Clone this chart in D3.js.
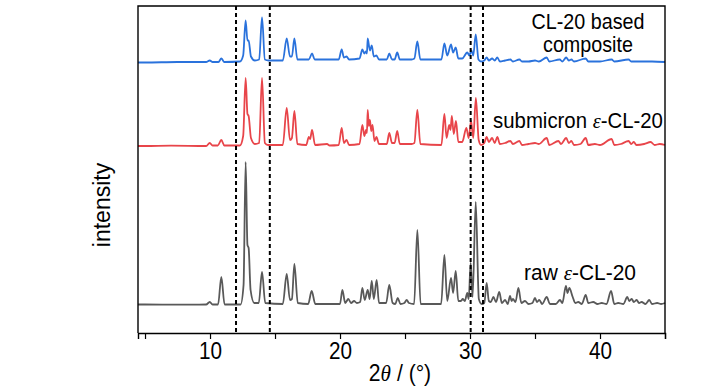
<!DOCTYPE html>
<html><head><meta charset="utf-8">
<script src="https://cdn.jsdelivr.net/npm/d3@7"></script>
<style>body{margin:0;background:#fff}svg{display:block}text{font-family:"Liberation Sans",Arial,sans-serif;fill:#000}</style>
</head><body><svg id="c" width="728" height="390"></svg>
<script>
// ---- data (2θ in degrees, relative intensity) ----
const rawPattern = [[4.46,0.5],[5,0.5],[7,0.3],[9.7,0.5],[9.98,3],[10.2,0.5],[10.62,0.5],[10.87,28],[11.12,0.5],[12.35,0.5],[12.58,20],[12.74,143],[12.88,60],[12.97,57],[13.12,15],[13.4,2],[13.75,2],[14.0,33],[14.25,2],[15.6,1],[15.9,31],[16.15,5],[16.3,6],[16.49,41],[16.75,2],[17.55,1],[17.82,14],[18.1,1],[20.0,1],[20.18,15],[20.4,2],[20.64,6],[20.85,2],[21.08,4],[21.3,2],[21.55,3],[21.72,17],[21.9,5],[22.13,15],[22.28,6],[22.44,24],[22.6,6],[22.82,25],[23.0,2],[23.55,2],[23.79,20],[24.05,2],[24.25,1],[24.44,7],[24.65,1],[24.95,2],[25.13,5],[25.3,2],[25.7,1],[25.95,75],[26.2,1],[27.78,1],[28.03,50],[28.25,4],[28.54,27],[28.7,12],[28.9,34],[29.1,4],[29.3,4],[29.44,6],[29.6,4],[29.79,12],[29.9,6],[30.05,42],[30.2,8],[30.44,103],[30.68,6],[30.9,1],[31.1,2],[31.28,22],[31.45,4],[31.6,3],[31.8,8],[32.0,3],[32.25,13],[32.45,2],[32.7,5],[32.9,1],[33.08,9],[33.2,4],[33.3,6],[33.5,3],[33.72,17],[33.95,2],[34.23,4],[34.5,1],[34.8,2],[35.0,7],[35.15,3],[35.33,5],[35.55,1],[35.9,8],[36.15,1],[36.6,1],[36.92,5],[37.1,2],[37.38,19],[37.5,12],[37.64,17],[37.9,8],[38.1,2],[38.33,3],[38.6,1],[38.9,10],[39.1,2],[39.48,3],[39.8,1],[40.13,2],[40.5,1],[40.85,14],[41.1,1],[41.4,2],[41.8,1],[42.1,8],[42.25,4],[42.44,6],[42.6,3],[42.82,5],[43.0,2],[43.2,3],[43.5,1],[43.79,5],[44.0,1],[44.4,2],[44.7,1],[45,2]];
const submicronPattern = [[4.46,0],[5,0],[7,0.4],[9.7,0],[9.98,3],[10.2,0.5],[10.6,0.5],[10.87,6],[11.1,0.5],[12.3,0.5],[12.55,10],[12.74,68],[12.88,32],[12.97,30],[13.15,8],[13.45,2],[13.78,3],[14.0,68],[14.22,3],[14.45,1],[15.6,1],[15.9,38],[16.15,6],[16.3,8],[16.49,35],[16.72,2],[17.4,1],[17.6,9],[17.7,7],[17.85,16],[18.08,1],[19.0,2],[19.2,0.5],[19.9,1],[20.13,18],[20.3,3],[20.5,6],[20.7,1],[21.5,2],[21.72,21],[21.87,10],[22.0,16],[22.07,13],[22.13,36],[22.22,20],[22.3,26],[22.4,15],[22.5,21],[22.65,5],[22.8,9],[23.0,2],[23.6,2],[23.79,13],[24.0,3],[24.2,3],[24.4,15],[24.6,2],[25.0,2],[25.5,2],[25.72,3],[25.95,36],[26.18,2],[27.8,1],[28.03,32],[28.2,8],[28.4,21],[28.5,16],[28.6,30],[28.75,12],[28.92,25],[29.1,4],[29.4,4],[29.72,18],[29.9,8],[30.08,25],[30.25,8],[30.45,48],[30.67,6],[30.85,1],[31.1,3],[31.28,9],[31.45,4],[31.7,8],[31.9,3],[32.1,9],[32.3,2],[32.7,3],[33.1,5],[33.3,2],[33.8,5],[34.0,1],[34.5,2],[35.0,3],[35.3,2],[35.9,8],[36.1,1],[36.8,5],[37.0,2],[37.4,8],[37.6,3],[37.8,5],[38.0,1],[38.5,2],[38.9,8],[39.1,1],[39.6,2],[40.0,1],[40.9,7],[41.1,1],[41.6,2],[42.2,5],[42.4,2],[42.6,4],[42.8,1],[43.4,2],[43.9,4],[44.2,1],[44.6,2],[45,1]];
const compositePattern = [[4.46,0],[5,0],[7.5,0.5],[9.7,0.5],[9.98,2],[10.2,0.5],[10.65,0.5],[10.87,4],[11.1,0.5],[12.3,1],[12.55,7],[12.74,42],[12.88,22],[12.97,22],[13.15,6],[13.45,2],[13.78,3],[14.0,45],[14.22,3],[14.5,2],[15.6,2],[15.9,24],[16.15,6],[16.3,6],[16.49,24],[16.72,3],[17.6,3],[17.85,9],[18.05,3],[19.0,3],[19.5,3],[19.9,3],[20.13,13],[20.3,5],[20.5,6],[20.7,3],[21.5,4],[21.72,13],[21.87,9],[22.0,11],[22.07,9],[22.13,24],[22.3,12],[22.44,17],[22.6,6],[22.8,7],[23.0,3],[23.6,3],[23.79,9],[24.0,3],[24.2,3],[24.4,10],[24.6,3],[25.0,3],[25.5,3],[25.72,4],[25.95,21],[26.18,3],[27.8,3],[28.03,19],[28.25,7],[28.54,18],[28.7,10],[28.9,15],[29.1,4],[29.4,4],[29.79,10],[29.95,7],[30.1,12],[30.25,7],[30.44,28],[30.65,3],[30.85,1],[31.1,2],[31.28,5],[31.45,2],[31.7,4],[31.9,2],[32.1,5],[32.3,1],[32.7,2],[33.1,3],[33.3,1],[33.8,3],[34.0,1],[34.5,1],[35.0,2],[35.3,1],[35.9,5],[36.1,1],[36.9,3],[37.1,1],[37.4,5],[37.6,2],[37.8,3],[38.0,1],[38.9,4],[39.1,1],[40.0,1],[40.9,3],[41.1,1],[42.2,3],[42.4,1],[43.0,1],[44.0,1],[45,0.5]];
const seriesNames = ["raw", "submicron", "composite"];
const seriesOffsets = [0, 159, 242.5];
const seriesColors = ["#595959", "#e8454a", "#2a72dc"];
const markerLines = [12.0, 14.6, 30.05, 31.0];
const xTicks = [5, 10, 15, 20, 25, 30, 35, 40, 45];
const xTickLabels = ["", "10", "", "20", "", "30", "", "40", ""];
const xDomain = [4.46, 45];
const yDomain = [-28, 299];

// ---- layout ----
const L = 138, R = 665, T = 6, B = 333;
const svg = d3.select("#c");
const x = d3.scaleLinear().domain(xDomain).range([L, R]);
const y = d3.scaleLinear().domain(yDomain).range([B, T]);

const patterns = [rawPattern, submicronPattern, compositePattern];
const line = d3.line().curve(d3.curveMonotoneX);

patterns.forEach((p, i) => {
  svg.append("path")
    .attr("d", line(p.map(d => [x(d[0]), y(d[1] + seriesOffsets[i])])))
    .attr("fill", "none")
    .attr("stroke", seriesColors[i])
    .attr("stroke-width", 1.8)
    .attr("stroke-linejoin", "round");
});

// dashed markers
svg.selectAll("line.mk").data(markerLines).enter().append("line")
  .attr("x1", d => x(d)).attr("x2", d => x(d))
  .attr("y1", T).attr("y2", B)
  .attr("stroke", "#000").attr("stroke-width", 2).attr("stroke-dasharray", "4,3");

// frame
svg.append("path")
  .attr("d", `M${L},${B}V${T}H${R}V${B}`)
  .attr("fill", "none").attr("stroke", "#000").attr("stroke-width", 1.4);

// x axis
const xAxis = d3.axisBottom(x).tickValues(xTicks)
  .tickFormat((d, i) => xTickLabels[i]).tickSize(6).tickPadding(4);
const gx = svg.append("g").attr("transform", `translate(0,${B})`).call(xAxis);
gx.select(".domain").attr("stroke-width", 1.4);
gx.selectAll(".tick line").attr("stroke-width", 1.2);
gx.selectAll(".tick text").attr("font-size", 23).attr("font-family", "Liberation Sans, Arial, sans-serif")
  .attr("transform", "scale(0.9,1)");

// axis titles
const xt = svg.append("text").attr("transform", "translate(400,381) scale(0.92,1)").attr("text-anchor", "middle")
  .attr("font-size", 23);
xt.append("tspan").text("2");
xt.append("tspan").attr("font-style", "italic").attr("font-family", "Liberation Serif, serif").text("θ");
xt.append("tspan").text(" / (°)");

svg.append("text").attr("transform", "translate(110,205) rotate(-90)")
  .attr("text-anchor", "middle").attr("font-size", 23).text("intensity");

// series labels (scaled horizontally to the reference widths)
function label(xc, yb, parts, width) {
  const g = svg.append("g").attr("transform", `translate(${xc},${yb})`);
  const t = g.append("text").attr("text-anchor", "middle").attr("font-size", 22);
  parts.forEach(p => {
    const s = t.append("tspan").text(p[0]);
    if (p[1]) s.attr("font-style", "italic").attr("font-family", "Liberation Serif, serif");
  });
  const w = t.node().getComputedTextLength();
  t.attr("transform", `scale(${width / w},1)`);
}
label(588, 29, [["CL-20 based"]], 113);
label(588, 52, [["composite"]], 90);
label(578, 128, [["submicron\u00a0"], ["ε", true], ["-CL-20"]], 170);
label(580, 280, [["raw\u00a0"], ["ε", true], ["-CL-20"]], 112);
</script></body></html>
